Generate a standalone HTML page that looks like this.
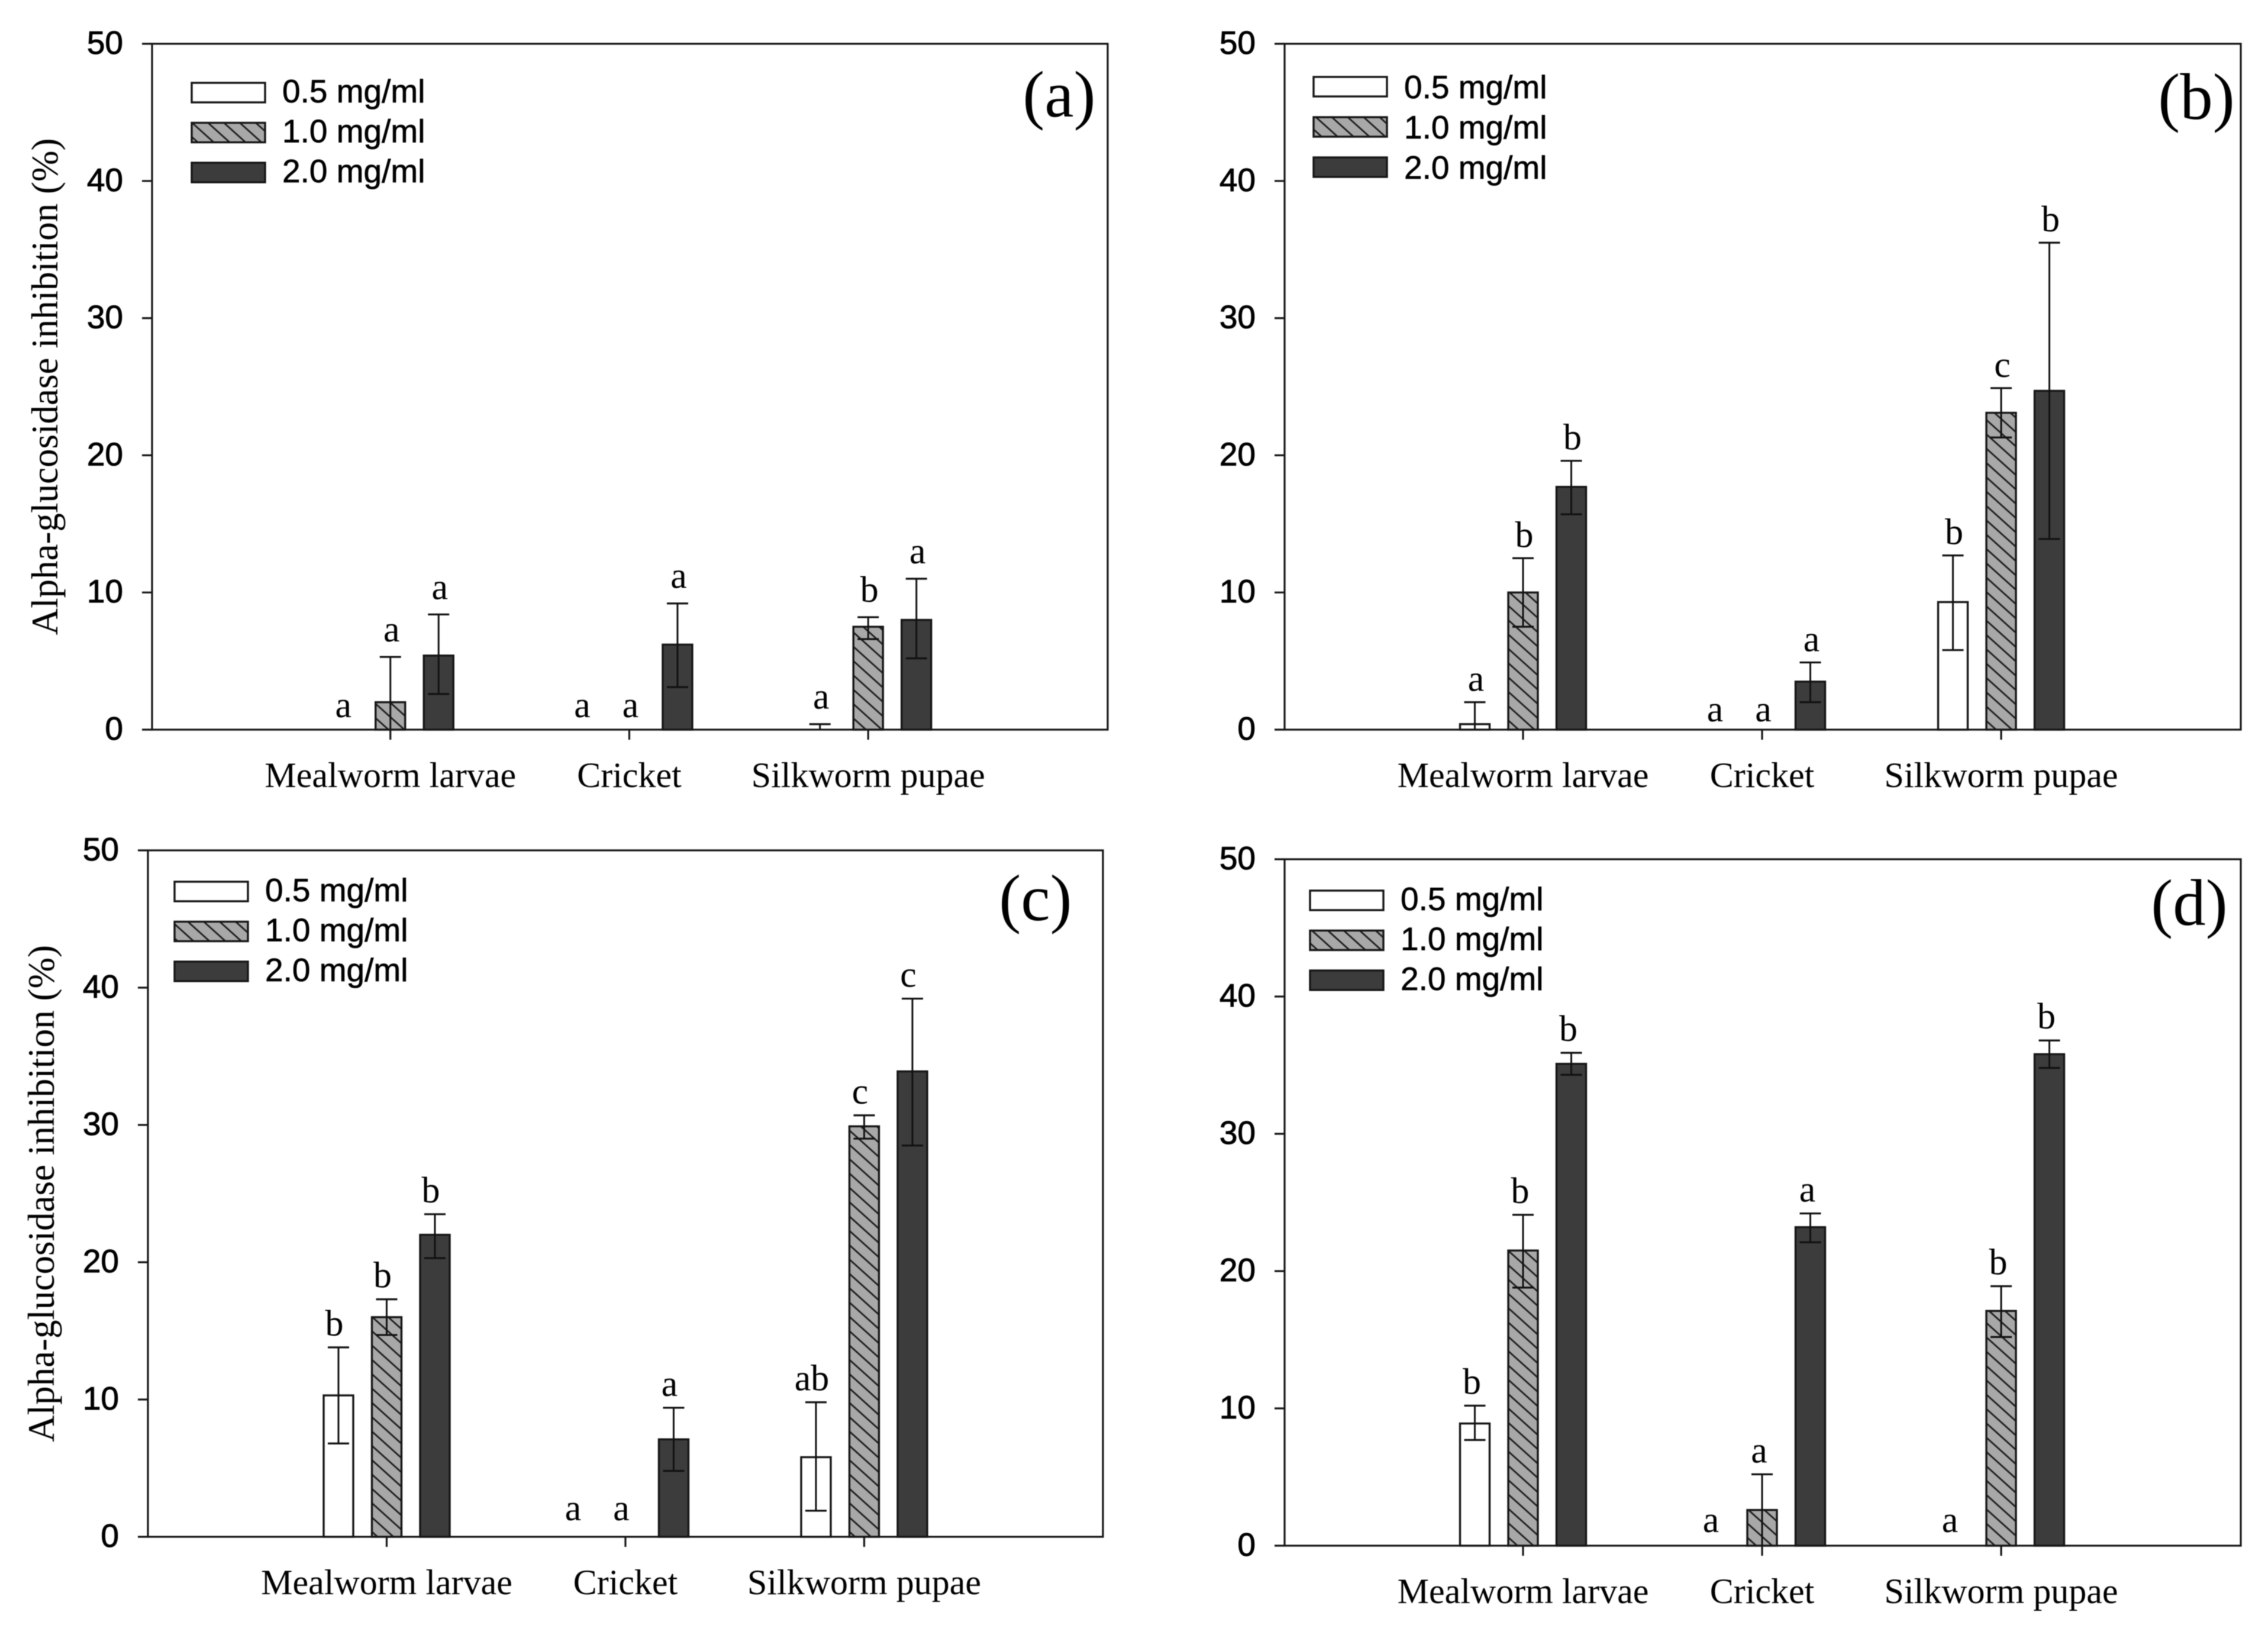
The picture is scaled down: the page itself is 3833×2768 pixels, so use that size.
<!DOCTYPE html>
<html lang="en">
<head>
<meta charset="utf-8">
<title>Alpha-glucosidase inhibition by insect extract concentration</title>
<style>
  html, body { margin: 0; padding: 0; background: #ffffff; }
  svg { display: block; filter: blur(0.9px); }
</style>
</head>
<body>
<svg id="figure" xmlns="http://www.w3.org/2000/svg" width="3833" height="2768" viewBox="0 0 3833 2768">
  <defs>
    <pattern id="hatch" patternUnits="userSpaceOnUse" width="18" height="18" patternTransform="rotate(42)">
      <rect width="18" height="18" fill="#a8a8a8"></rect>
      <line x1="0" y1="9" x2="18" y2="9" stroke="#1c1c1c" stroke-width="2.8"></line>
    </pattern>
  </defs>
  <rect x="0" y="0" width="3833" height="2768" fill="#ffffff"></rect>
</svg>
<script>
// ---------- shared chart data ----------
const categories = ['Mealworm larvae', 'Cricket', 'Silkworm pupae'];
const seriesNames = ['0.5 mg/ml', '1.0 mg/ml', '2.0 mg/ml'];
const tickValues = [0, 10, 20, 30, 40, 50];

// ---------- panel (a) ----------
const aValues = [[null, 2.0, 5.4], [null, null, 6.2], [0, 7.5, 8.0]];
const aErrHigh = [[null, 5.3, 8.4], [null, null, 9.2], [0.4, 8.2, 11.0]];
const aErrLow = [[null, 0, 2.6], [null, null, 3.1], [0, 6.6, 5.2]];
const aLetters = [['a', 'a', 'a'], ['a', 'a', 'a'], ['a', 'b', 'a']];

// ---------- panel (b) ----------
const bValues = [[0.4, 10.0, 17.7], [null, null, 3.5], [9.3, 23.1, 24.7]];
const bErrHigh = [[2.0, 12.5, 19.6], [null, null, 4.9], [12.7, 24.9, 35.5]];
const bErrLow = [[0, 7.5, 15.7], [null, null, 2.0], [5.8, 21.3, 13.9]];
const bLetters = [['a', 'b', 'b'], ['a', 'a', 'a'], ['b', 'c', 'b']];

// ---------- panel (c) ----------
const cValues = [[10.3, 16.0, 22.0], [null, null, 7.1], [5.8, 29.9, 33.9]];
const cErrHigh = [[13.8, 17.3, 23.5], [null, null, 9.4], [9.8, 30.7, 39.2]];
const cErrLow = [[6.8, 14.7, 20.3], [null, null, 4.8], [1.9, 29.0, 28.5]];
const cLetters = [['b', 'b', 'b'], ['a', 'a', 'a'], ['ab', 'c', 'c']];

// ---------- panel (d) ----------
const dValues = [[8.9, 21.5, 35.1], [null, 2.6, 23.2], [null, 17.1, 35.8]];
const dErrHigh = [[10.2, 24.1, 35.9], [null, 5.2, 24.2], [null, 18.9, 36.8]];
const dErrLow = [[7.7, 18.8, 34.3], [null, 0, 22.1], [null, 15.2, 34.8]];
const dLetters = [['b', 'b', 'b'], ['a', 'a', 'a'], ['a', 'b', 'b']];

// ---------- layout (not data) ----------
const panelLayouts = [
  { id: 'a', values: aValues, high: aErrHigh, low: aErrLow, letters: aLetters,
    left: 257, right: 1872, top: 74, bottom: 1233, xShift: -1, letterDx: 2, letterGap: 26, zeroLift: 21, legendTextDy: 33,
    legendX: 324, legendY: 140, legendStep: 67.5, panelX: 1790, panelY: 197, titleX: 97 },
  { id: 'b', values: bValues, high: bErrHigh, low: bErrLow, letters: bLetters,
    left: 2171, right: 3787, top: 74, bottom: 1233, xShift: -1, letterDx: 2, letterGap: 19, zeroLift: 14, legendTextDy: 36,
    legendX: 2220, legendY: 130, legendStep: 68, panelX: 3712, panelY: 201, titleX: null },
  { id: 'c', values: cValues, high: cErrHigh, low: cErrLow, letters: cLetters,
    left: 250, right: 1864, top: 1437, bottom: 2597, xShift: 0, letterDx: -7, letterGap: 20, zeroLift: 28, legendTextDy: 33,
    legendX: 295, legendY: 1490, legendStep: 67.5, panelX: 1750, panelY: 1555, titleX: 91 },
  { id: 'd', values: dValues, high: dErrHigh, low: dErrLow, letters: dLetters,
    left: 2171, right: 3787, top: 1452, bottom: 2612, xShift: -1, letterDx: -5, letterGap: 20, zeroLift: 23, legendTextDy: 33,
    legendX: 2214, legendY: 1505, legendStep: 67.5, panelX: 3700, panelY: 1563, titleX: null }
];

const SANS = '"Liberation Sans", Arial, sans-serif';
const SERIF = '"Liberation Serif", "Times New Roman", serif';
const INK = '#161616';
const seriesFills = ['#ffffff', 'url(#hatch)', '#3c3c3c'];
const Y_MAX = 50;
const BAR_W = 50;
const BAR_STEP = 81.5;
const CAP_W = 36;

const svg = document.getElementById('figure');
const NS = 'http://www.w3.org/2000/svg';

function el(tag, attrs, parent, text) {
  const node = document.createElementNS(NS, tag);
  for (const key in attrs) node.setAttribute(key, attrs[key]);
  if (text !== undefined) node.textContent = text;
  parent.appendChild(node);
  return node;
}

function drawPanel(p) {
  const yScale = v => p.bottom - (v / Y_MAX) * (p.bottom - p.top);
  const xScale = i => p.left + (p.right - p.left) * (i + 1) / 4 + p.xShift;

  const g = el('g', {}, svg);
  
  

  const frame = el('rect', { x: p.left, y: p.top, width: p.right - p.left, height: p.bottom - p.top, fill: 'none', stroke: INK, 'stroke-width': 3.2 }, g);
  
  

  tickValues.forEach(v => {
    const tick = el('line', { x1: p.left - 17, x2: p.left, y1: yScale(v), y2: yScale(v), stroke: INK, 'stroke-width': 3.2 }, g);
    
    
    const label = el('text', { x: p.left - 49, y: yScale(v) + 17, 'text-anchor': 'end', 'font-family': SANS, 'font-size': 55, fill: '#000', stroke: '#000', 'stroke-width': 1 }, g, String(v));
    
    
  });

  categories.forEach((cat, c) => {
    const cx = xScale(c);
    const tick = el('line', { x1: cx, x2: cx, y1: p.bottom, y2: p.bottom + 17, stroke: INK, 'stroke-width': 3.2 }, g);
    
    
    const label = el('text', { x: cx, y: p.bottom + 97, 'text-anchor': 'middle', 'font-family': SERIF, 'font-size': 60, fill: '#000' }, g, cat);
    
    

    seriesNames.forEach((name, s) => {
      const bx = cx + (s - 1) * BAR_STEP;
      const value = p.values[c][s];
      const high = p.high[c][s];
      const low = p.low[c][s];

      if (value !== null) {
        const bar = el('rect', { x: bx - BAR_W / 2, y: yScale(value), width: BAR_W, height: p.bottom - yScale(value), fill: seriesFills[s], stroke: INK, 'stroke-width': 3.4 }, g);
        
        
      }
      if (high !== null) {
        const stem = el('line', { x1: bx, x2: bx, y1: yScale(high), y2: yScale(low), stroke: '#111', 'stroke-width': 3 }, g);
        
        
        const capTop = el('line', { x1: bx - CAP_W / 2, x2: bx + CAP_W / 2, y1: yScale(high), y2: yScale(high), stroke: '#111', 'stroke-width': 3.2 }, g);
        
        
        if (low > 0) {
          const capLow = el('line', { x1: bx - CAP_W / 2, x2: bx + CAP_W / 2, y1: yScale(low), y2: yScale(low), stroke: '#111', 'stroke-width': 3.2 }, g);
          
          
        }
      }
      const letterBase = high !== null ? yScale(high) - p.letterGap : p.bottom - p.zeroLift;
      const letter = el('text', { x: bx + p.letterDx, y: letterBase, 'text-anchor': 'middle', 'font-family': SERIF, 'font-size': 62, fill: '#000' }, g, p.letters[c][s]);
      
      
    });
  });

  seriesNames.forEach((name, s) => {
    const y = p.legendY + s * p.legendStep;
    const swatch = el('rect', { x: p.legendX, y: y, width: 124, height: 33, fill: seriesFills[s], stroke: INK, 'stroke-width': 3.4 }, g);
    
    
    const text = el('text', { x: p.legendX + 153, y: y + p.legendTextDy, 'font-family': SANS, 'font-size': 55, fill: '#000', stroke: '#000', 'stroke-width': 0.7 }, g, name);
    
    
  });

  const tag = el('text', { x: p.panelX, y: p.panelY, 'text-anchor': 'middle', 'font-family': SERIF, 'font-size': 111, fill: '#000' }, g, '(' + p.id + ')');
  
  

  if (p.titleX !== null) {
    const cy = (p.top + p.bottom) / 2;
    const title = el('text', { x: p.titleX, y: cy, transform: 'rotate(-90 ' + p.titleX + ' ' + cy + ')', 'text-anchor': 'middle', 'font-family': SERIF, 'font-size': 63, fill: '#000' }, g, 'Alpha-glucosidase inhibition (%)');
    
    
  }
}

panelLayouts.forEach(drawPanel);
</script>
</body>
</html>
